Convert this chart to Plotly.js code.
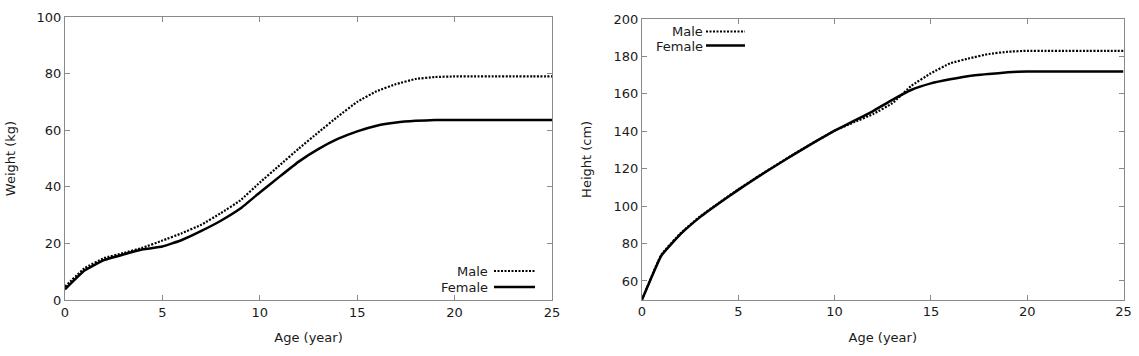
<!DOCTYPE html>
<html>
<head>
<meta charset="utf-8">
<script src="https://cdn.plot.ly/plotly-3.0.1.min.js"></script>
<style>html,body{margin:0;padding:0;background:#fff;}#chart{width:1139px;height:356px;}</style>
</head>
<body>
<div id="chart"></div>
<script>
// Data
const ages = [0,1,2,3,4,5,6,7,8,9,10,11,12,13,14,15,16,17,18,19,20,21,22,23,24,25];
const maleWeight   = [4.7,11.2,14.8,16.6,18.5,21.0,23.6,26.6,30.7,35.2,41.5,47.5,53.5,59.2,64.8,70.0,73.8,76.3,78.1,78.8,79,79,79,79,79,79];
const femaleWeight = [3.8,10.4,14.1,16.1,17.9,18.9,21.2,24.4,28.0,32.3,38.0,43.5,48.9,53.3,56.9,59.6,61.6,62.7,63.3,63.6,63.6,63.6,63.6,63.6,63.6,63.6];
const maleHeight   = [50,74,85.5,94.4,101.8,109.0,115.7,122.2,128.5,134.5,140.3,144.8,149.2,155.0,164.4,171.0,176.3,179.0,181.3,182.5,183,183,183,183,183,183];
const femaleHeight = [50,73.5,85.0,94.0,101.5,108.7,115.5,122.0,128.3,134.5,140.3,145.5,150.8,156.8,162.2,165.6,167.8,169.6,170.6,171.5,172,172,172,172,172,172];
const seriesNames = ["Male", "Female"];
const xTitle = "Age (year)";
const yTitleLeft = "Weight (kg)";
const yTitleRight = "Height (cm)";

const W = 1139, H = 356;
const font = {family: "DejaVu Sans, sans-serif", size: 13, color: "#1a1a1a"};
const axisGray = "#8a8a8a";
const dotDash = "2px,1.5px";

function px(x){ return x / W; }
function py(y){ return 1 - y / H; }

const lineShape = {shape: "spline", smoothing: 0.3};
const traces = [
  {x: ages, y: maleWeight, xaxis: "x", yaxis: "y", mode: "lines", name: seriesNames[0],
   line: Object.assign({color: "#000", width: 2.2, dash: dotDash}, lineShape)},
  {x: ages, y: femaleWeight, xaxis: "x", yaxis: "y", mode: "lines", name: seriesNames[1],
   line: Object.assign({color: "#000", width: 2.5}, lineShape)},
  {x: ages, y: maleHeight, xaxis: "x2", yaxis: "y2", mode: "lines", name: seriesNames[0],
   line: Object.assign({color: "#000", width: 2.2, dash: dotDash}, lineShape)},
  {x: ages, y: femaleHeight, xaxis: "x2", yaxis: "y2", mode: "lines", name: seriesNames[1],
   line: Object.assign({color: "#000", width: 2.5}, lineShape)}
];

const baseAxis = {
  showline: true, linecolor: axisGray, linewidth: 1, mirror: "ticks",
  ticks: "inside", ticklen: 5, tickcolor: axisGray, tickwidth: 1,
  showgrid: false, zeroline: false, tickfont: font, fixedrange: true
};

const layout = {
  width: W, height: H,
  margin: {l: 0, r: 0, t: 0, b: 0},
  paper_bgcolor: "#fff", plot_bgcolor: "#fff",
  showlegend: false,
  font: font,
  xaxis: Object.assign({}, baseAxis, {
    domain: [px(65), px(552)], range: [0, 25], dtick: 5, tick0: 0, anchor: "y",
    title: {text: xTitle, font: font, standoff: 14}
  }),
  yaxis: Object.assign({}, baseAxis, {
    domain: [py(300), py(17)], range: [0, 100], dtick: 20, tick0: 0, anchor: "x",
    title: {text: yTitleLeft, font: font, standoff: 18}
  }),
  xaxis2: Object.assign({}, baseAxis, {
    domain: [px(642), px(1123.5)], range: [0, 25], dtick: 5, tick0: 0, anchor: "y2",
    title: {text: xTitle, font: font, standoff: 14}
  }),
  yaxis2: Object.assign({}, baseAxis, {
    domain: [py(299.7), py(19)], range: [50, 200], dtick: 20, tick0: 60, anchor: "x2",
    title: {text: yTitleRight, font: font, standoff: 19}
  }),
  annotations: [],
  shapes: []
};

// Custom gnuplot-style legends (text then sample line)
function addLegend(textRight, lineX0, lineX1, yMale, yFemale){
  [[seriesNames[0], yMale, dotDash, 2.2],[seriesNames[1], yFemale, "solid", 2.5]].forEach(([name, y, dash, w]) => {
    layout.annotations.push({
      xref: "paper", yref: "paper", x: px(textRight), y: py(y), xanchor: "right", yanchor: "middle",
      text: name, showarrow: false, font: font, height: 12, borderpad: 0
    });
    layout.shapes.push({
      type: "line", xref: "paper", yref: "paper",
      x0: px(lineX0), x1: px(lineX1), y0: py(y), y1: py(y),
      line: {color: "#000", width: w, dash: dash}
    });
  });
}
addLegend(489, 494, 535, 271, 287);
addLegend(704, 706, 745, 31.5, 45.5);

Plotly.newPlot("chart", traces, layout, {displayModeBar: false, staticPlot: true});
</script>
</body>
</html>
